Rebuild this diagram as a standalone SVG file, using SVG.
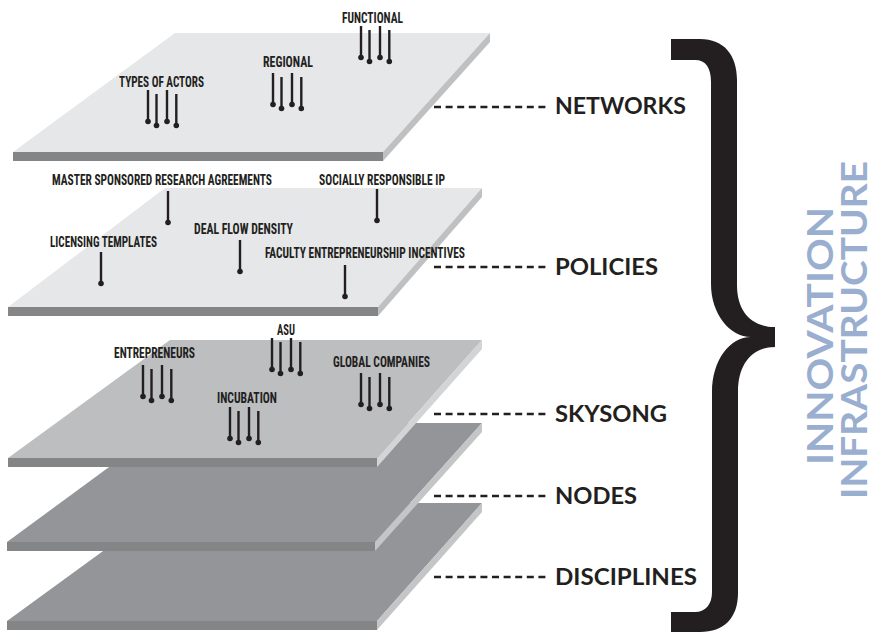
<svg xmlns="http://www.w3.org/2000/svg" xmlns:xlink="http://www.w3.org/1999/xlink" width="875" height="632" viewBox="0 0 875 632">
<style>
.lt{fill:#e6e7e8}
.md{fill:#bcbec0}
.dk{fill:#939598}
.fr{fill:#838587}
.sdl{fill:#bfc0c2}
.sdm{fill:#d3d4d5}
.sdd{fill:#c4c5c7}
.lbl{font-family:"Liberation Sans Narrow","Roboto Condensed","Liberation Sans",sans-serif;font-weight:bold;font-size:14.5px;fill:#231f20}
.big{font-family:Lato,"Open Sans","Liberation Sans",sans-serif;font-weight:bold;font-size:22px;fill:#231f20}
.vert{font-family:Lato,"Open Sans","Liberation Sans",sans-serif;font-weight:bold;font-size:36px;fill:#9aafcf}
.dash{stroke:#231f20;stroke-width:2.5;stroke-dasharray:7 4.6;fill:none}
.pin line{stroke:#231f20;stroke-width:2.4}
.pin circle{fill:#231f20}
</style>
<defs>
<g id="pin1" class="pin"><line x1="0" y1="0" x2="0" y2="31"/><circle cx="0" cy="31.5" r="2.8"/></g>
<g id="pin4">
<use xlink:href="#pin1" x="0" y="0"/>
<use xlink:href="#pin1" x="8.5" y="4"/>
<use xlink:href="#pin1" x="19" y="0"/>
<use xlink:href="#pin1" x="28.3" y="4"/>
</g>
</defs>

<g id="disciplines">
<polygon class="dk" points="169,503 482,503 377,621 7,621"/>
<rect class="fr" x="7" y="621" width="370" height="9"/>
<polygon class="sdd" points="482,503 482,512 377,630 377,621"/>
</g>

<g id="nodes">
<polygon class="dk" points="169,423 482,423 375,542 7,542"/>
<rect class="fr" x="7" y="542" width="368" height="9"/>
<polygon class="sdd" points="482,423 482,432 375,551 375,542"/>
</g>

<g id="skysong">
<polygon class="md" points="170,340 482,340 377,458 8,458"/>
<rect class="fr" x="8" y="458" width="369" height="9"/>
<polygon class="sdm" points="482,340 482,349 377,467 377,458"/>
<text class="lbl" x="277" y="335" textLength="18" lengthAdjust="spacingAndGlyphs">ASU</text>
<use xlink:href="#pin4" x="272" y="338"/>
<text class="lbl" x="114" y="358" textLength="81" lengthAdjust="spacingAndGlyphs">ENTREPRENEURS</text>
<use xlink:href="#pin4" x="143" y="365"/>
<text class="lbl" x="333" y="367" textLength="97" lengthAdjust="spacingAndGlyphs">GLOBAL COMPANIES</text>
<use xlink:href="#pin4" x="361" y="373"/>
<text class="lbl" x="217" y="403" textLength="60" lengthAdjust="spacingAndGlyphs">INCUBATION</text>
<use xlink:href="#pin4" x="230" y="407"/>
</g>

<g id="policies">
<polygon class="lt" points="165,188 482,188 378,307 8,307"/>
<rect class="fr" x="8" y="307" width="370" height="9"/>
<polygon class="sdl" points="482,188 482,197 378,316 378,307"/>
<text class="lbl" x="52" y="185" textLength="220" lengthAdjust="spacingAndGlyphs">MASTER SPONSORED RESEARCH AGREEMENTS</text>
<use xlink:href="#pin1" x="168" y="191"/>
<text class="lbl" x="319" y="185" textLength="126" lengthAdjust="spacingAndGlyphs">SOCIALLY RESPONSIBLE IP</text>
<use xlink:href="#pin1" x="377" y="189"/>
<text class="lbl" x="194" y="234" textLength="99" lengthAdjust="spacingAndGlyphs">DEAL FLOW DENSITY</text>
<use xlink:href="#pin1" x="240" y="240"/>
<text class="lbl" x="50" y="247" textLength="107" lengthAdjust="spacingAndGlyphs">LICENSING TEMPLATES</text>
<use xlink:href="#pin1" x="101" y="252"/>
<text class="lbl" x="265" y="258" textLength="200" lengthAdjust="spacingAndGlyphs">FACULTY ENTREPRENEURSHIP INCENTIVES</text>
<use xlink:href="#pin1" x="345" y="265"/>
</g>

<g id="networks">
<polygon class="lt" points="175,33 490,33 383,152 13,152"/>
<rect class="fr" x="13" y="152" width="370" height="9"/>
<polygon class="sdl" points="490,33 490,42 383,161 383,152"/>
<text class="lbl" x="342" y="23" textLength="61" lengthAdjust="spacingAndGlyphs">FUNCTIONAL</text>
<use xlink:href="#pin4" x="361" y="26"/>
<text class="lbl" x="263" y="67" textLength="50" lengthAdjust="spacingAndGlyphs">REGIONAL</text>
<use xlink:href="#pin4" x="273" y="73"/>
<text class="lbl" x="119" y="87" textLength="85" lengthAdjust="spacingAndGlyphs">TYPES OF ACTORS</text>
<use xlink:href="#pin4" x="148" y="90"/>
</g>

<g id="connectors">
<line class="dash" x1="434" y1="107" x2="549" y2="107"/>
<line class="dash" x1="434" y1="267" x2="549" y2="267"/>
<line class="dash" x1="434" y1="414" x2="549" y2="414"/>
<line class="dash" x1="434" y1="496" x2="549" y2="496"/>
<line class="dash" x1="434" y1="577" x2="549" y2="577"/>
</g>

<g id="layer-labels">
<text class="big" x="555" y="114" textLength="131" lengthAdjust="spacingAndGlyphs">NETWORKS</text>
<text class="big" x="555" y="275" textLength="103" lengthAdjust="spacingAndGlyphs">POLICIES</text>
<text class="big" x="555" y="422" textLength="112" lengthAdjust="spacingAndGlyphs">SKYSONG</text>
<text class="big" x="555" y="504" textLength="82" lengthAdjust="spacingAndGlyphs">NODES</text>
<text class="big" x="555" y="585" textLength="142" lengthAdjust="spacingAndGlyphs">DISCIPLINES</text>
</g>

<g id="brace">
<path fill="#231f20" d="M671,39 L700,39 C724,39 737,55 737,80 L737,285 C737,312 752,327 775,327 L775,347 C752,347 738,364 738,392 L738,593 C738,618 724,632 700,632 L671,632 L671,612 L695,612 C706,612 712,604 712,592 L712,392 C712,360 730,337 751,337 C730,337 711,314 711,284 L711,82 C711,68 706,60 695,60 L671,60 Z"/>
</g>

<g id="title">
<text class="vert" transform="translate(833,336) rotate(-90)" text-anchor="middle" textLength="258" lengthAdjust="spacingAndGlyphs">INNOVATION</text>
<text class="vert" transform="translate(867,330) rotate(-90)" text-anchor="middle" textLength="338" lengthAdjust="spacingAndGlyphs">INFRASTRUCTURE</text>
</g>
</svg>
